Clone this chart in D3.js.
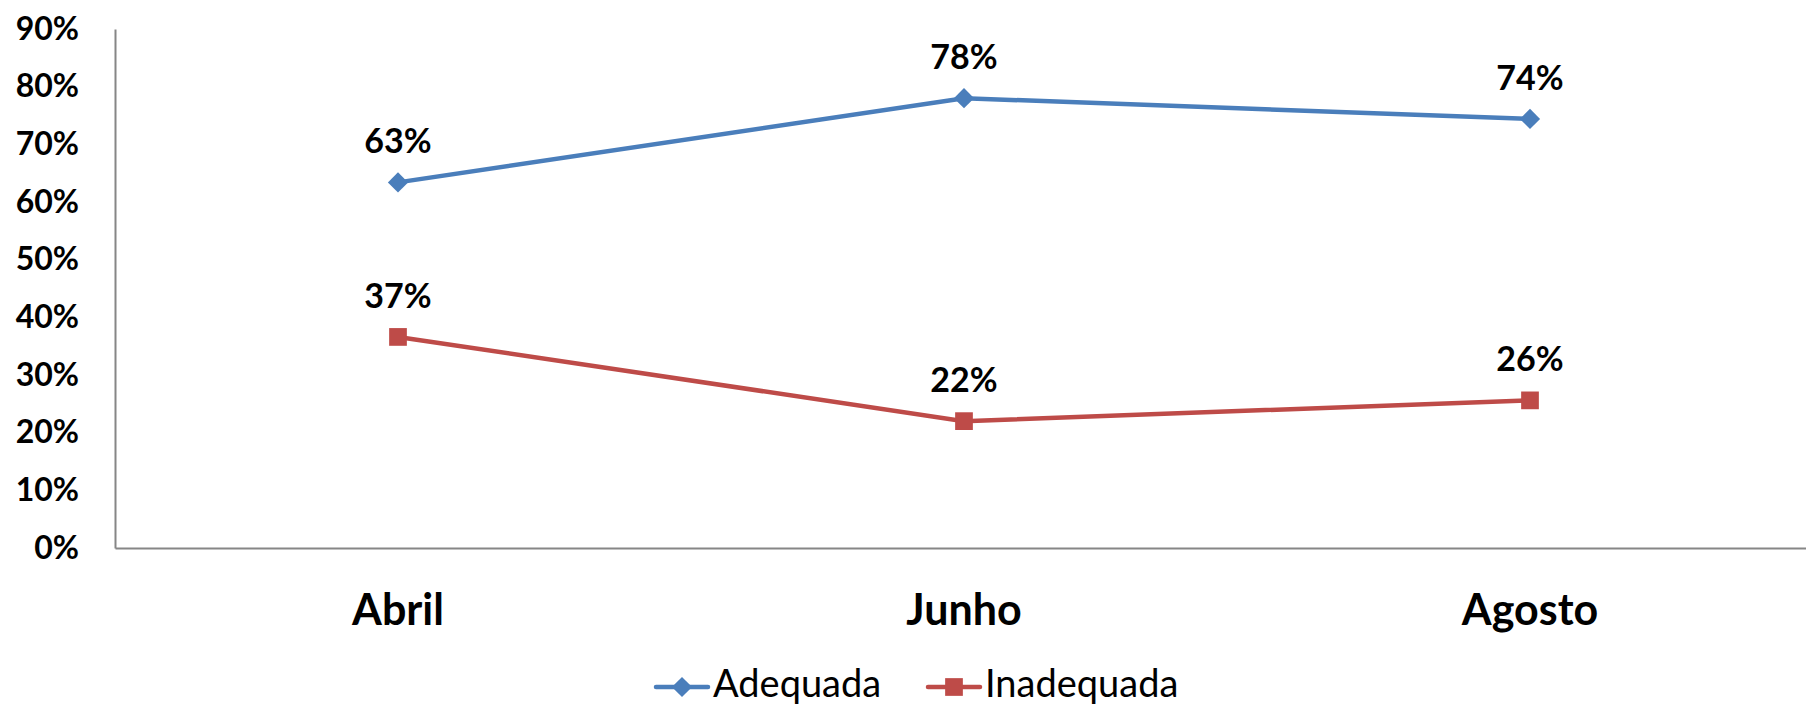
<!DOCTYPE html>
<html>
<head>
<meta charset="utf-8">
<script src="https://d3js.org/d3.v7.min.js"></script>
<style>
  body { margin: 0; background: #fff; }
  svg { display: block; font-family: Lato, "Open Sans", sans-serif; }
</style>
</head>
<body>
<svg id="chart" width="1806" height="708"></svg>
<script>
const months = ["Abril", "Junho", "Agosto"]
const adequada = [0.634, 0.78, 0.744]
const inadequada = [0.366, 0.22, 0.256]
const yTicks = [0, 0.1, 0.2, 0.3, 0.4, 0.5, 0.6, 0.7, 0.8, 0.9]

const series = [
  {name: "Adequada", values: adequada, color: "#4a7ebb", shape: "diamond"},
  {name: "Inadequada", values: inadequada, color: "#be4b48", shape: "square"}
]

const svg = d3.select("#chart")
const plotLeft = 115, plotRight = 1813, plotTop = 29, plotBottom = 548

const x = d3.scaleBand().domain(months).range([plotLeft, plotRight])
const y = d3.scaleLinear().domain([0, 0.9]).range([plotBottom, plotTop])

// y axis
const yAxis = svg.append("g")
  .attr("transform", `translate(${plotLeft},0)`)
  .call(d3.axisLeft(y).tickValues(yTicks).tickFormat(d3.format(".0%")).tickSize(0).tickPadding(36))
yAxis.select(".domain").attr("stroke", "#868686").attr("stroke-width", 2)
yAxis.selectAll("text")
  .attr("font-family", "Lato, sans-serif")
  .attr("font-size", 32).attr("font-weight", "bold").attr("fill", "#000")

// x axis
const xAxis = svg.append("g")
  .attr("transform", `translate(0,${plotBottom})`)
  .call(d3.axisBottom(x).tickSize(0).tickPadding(46))
xAxis.select(".domain").attr("stroke", "#868686").attr("stroke-width", 2)
xAxis.selectAll("text")
  .attr("font-family", "Lato, sans-serif")
  .attr("font-size", 43).attr("font-weight", "bold").attr("fill", "#000")

const cx = (d, i) => x(months[i]) + x.bandwidth() / 2

const line = d3.line()
  .x((d, i) => x(months[i]) + x.bandwidth() / 2)
  .y(d => y(d))

const diamond = d3.symbol().type(d3.symbolDiamond2).size(260)
const square = d3.symbol().type(d3.symbolSquare2).size(400)

series.forEach(s => {
  const g = svg.append("g")
  g.append("path")
    .attr("d", line(s.values))
    .attr("fill", "none")
    .attr("stroke", s.color)
    .attr("stroke-width", 4.5)
  g.selectAll("path.mark")
    .data(s.values)
    .join("path")
    .attr("class", "mark")
    .attr("d", s.shape == "diamond" ? diamond : square)
    .attr("transform", (d, i) => `translate(${cx(d, i)},${y(d)})`)
    .attr("fill", s.color)
  g.selectAll("text")
    .data(s.values)
    .join("text")
    .attr("x", (d, i) => cx(d, i))
    .attr("y", d => y(d) - 29)
    .attr("text-anchor", "middle")
    .attr("font-size", 34).attr("font-weight", "bold")
    .text(d => d3.format(".0%")(d))
})

// legend
const legendPos = [656, 928]
const legend = svg.append("g")
series.forEach((s, i) => {
  const lg = legend.append("g").attr("transform", `translate(${legendPos[i]},687)`)
  lg.append("line")
    .attr("x1", 0).attr("x2", 52)
    .attr("stroke", s.color).attr("stroke-width", 4.5).attr("stroke-linecap", "round")
  lg.append("path")
    .attr("d", s.shape == "diamond" ? diamond : square)
    .attr("transform", "translate(26,0)")
    .attr("fill", s.color)
  lg.append("text")
    .attr("x", 57).attr("y", -3)
    .attr("dy", "0.35em")
    .attr("font-size", 38)
    .text(s.name)
})
</script>
</body>
</html>
